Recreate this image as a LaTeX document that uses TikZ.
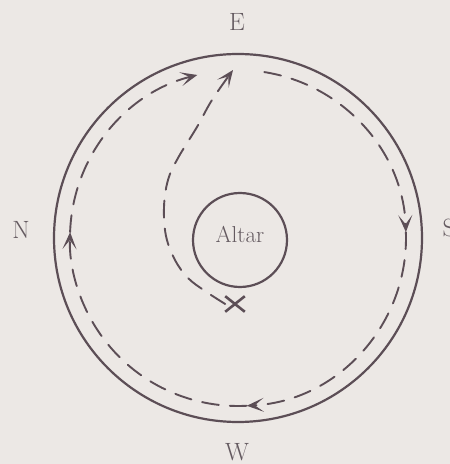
\documentclass[tikz,border=0pt]{standalone}
\usetikzlibrary{arrows.meta,shapes.misc}
\definecolor{ink}{RGB}{92,78,86}
\definecolor{txt}{RGB}{100,90,96}
\definecolor{paper}{RGB}{236,232,229}
\begin{document}
\begin{tikzpicture}[x=1pt,y=1pt,
  ring/.style={draw=ink,line width=2.2pt},
  route/.style={draw=ink,line width=1.9pt,dash pattern=on 17pt off 11pt,line cap=round},
  tip/.style={-{Stealth[length=17pt,width=14pt,inset=9pt]}},
  compass/.style={text=txt,font=\fontsize{25}{25}\selectfont,inner sep=0pt,text depth=0pt}]
\useasboundingbox[fill=paper] (0,0) rectangle (450,464);
\coordinate (c) at (238,226);
% outer ring
\draw[ring] (c) circle[radius=184];
% altar
\node[ring,circle,minimum size=94pt,inner sep=0pt] (altar) at (240,224) {};
\node[text=txt,font=\fontsize{23}{23}\selectfont,anchor=base,inner sep=0pt] (altarlabel) at (240,221) {Altar};
% compass labels
\node[compass] (E) at (237,442) {E};
\node[compass] (N) at (21,234) {N};
\node[compass] (S) at (449,236) {S};
\node[compass] (W) at (237,12) {W};
% cross
\node[cross out,draw=ink,line width=2.6pt,minimum width=17pt,minimum height=13pt,inner sep=0pt] (x) at (235,160) {};
% path from cross to E
\draw[route,tip] plot[smooth,tension=0.6] coordinates {(x.west) (205,173) (188,186) (175,204) (166,228) (164,257) (168,284) (178,306) (197,337) (212,364) (233,394)};
% procession round the ring
\draw[route,tip] (c) ++(81:168) arc[start angle=81,end angle=2,radius=168];
\draw[route,tip] (c) ++(2:168) arc[start angle=2,end angle=-87,radius=168];
\draw[route,tip] (c) ++(-87:168) arc[start angle=-87,end angle=-182,radius=168];
\draw[route,tip] (c) ++(-182:168) arc[start angle=-182,end angle=-256,radius=168];
\end{tikzpicture}
\end{document}
